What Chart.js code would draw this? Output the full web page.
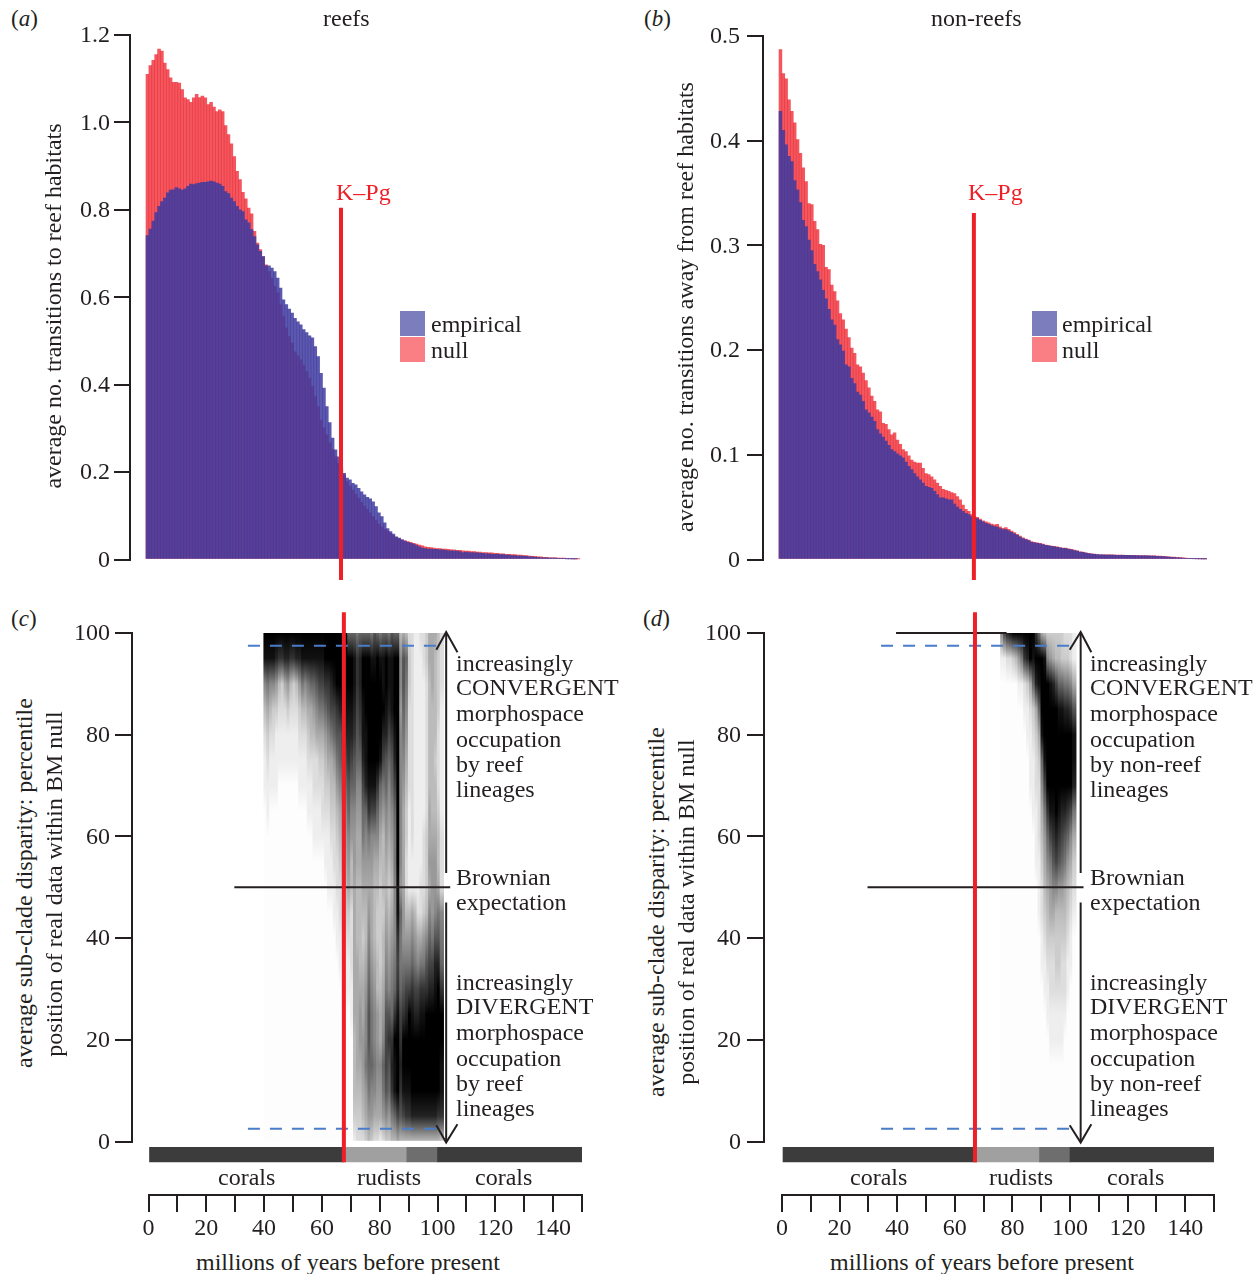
<!DOCTYPE html>
<html>
<head>
<meta charset="utf-8">
<title>Reef and non-reef transitions</title>
<script src="https://cdn.jsdelivr.net/npm/chart.js@4/dist/chart.umd.min.js"></script>
<style>
  html, body { margin: 0; padding: 0; background: #fff; }
  #page { position: relative; width: 1260px; height: 1274px; overflow: hidden; font-family: "Liberation Serif", serif; color: #231f20; }
  #page canvas { position: absolute; }
  .txt { position: absolute; font-size: 24px; line-height: 1; white-space: nowrap; transform: translateY(-50%); }
  .rot { position: absolute; font-size: 24px; line-height: 1; white-space: nowrap; transform: translate(-50%, -50%) rotate(-90deg); }
  .swatch { position: absolute; width: 25px; height: 25px; }
</style>
</head>
<body>
<div id="page">
  <canvas id="barC" width="460" height="100" style="left:140px;top:1140px"></canvas>
  <canvas id="barD" width="460" height="100" style="left:772px;top:1140px"></canvas>
  <canvas id="chartA" width="570" height="600" style="left:60px;top:0"></canvas>
  <canvas id="chartB" width="570" height="600" style="left:690px;top:0"></canvas>
  <canvas id="chartC" width="540" height="580" style="left:60px;top:600px"></canvas>
  <canvas id="chartD" width="560" height="580" style="left:690px;top:600px"></canvas>
</div>
<script>
// values, one per 1 Myr bin
const reefEmpirical = [
  .741,.756,.774,.794,.808,.819,.827,.839,.845,.846,.851,.848,.845,.848,.854,.859,.858,.86,.861,.863,
  .863,.864,.866,.864,.861,.859,.854,.842,.837,.827,.819,.808,.8,.796,.777,.77,.755,.739,.72,.705,
  .693,.672,.672,.667,.659,.644,.621,.594,.583,.573,.564,.552,.544,
  .537,.526,.519,.512,.507,.487,.464,.426,.392,.35,.313,.278,.251,.235,.212,.197,.186,.182,.174,.171,
  .163,.155,.148,.142,.139,.132,.121,.107,.098,.084,.071,.064,.058,.052,.049,.045,.042,.039,.037,.035,.032,.029,.026,
  .025,.024,.024,.023,.023,.022,.022,.021,.02,.02,.019,.019,.018,.016,
  .017,.016,.016,.015,.015,.014,.014,.013,.013,.012,.012,.012,
  .011,.011,.01,.01,.009,.009,.008,.008,.008,.007,.006,
  .006,.005,.005,.004,.004,.004,.003,.003,.003,.002,.002,.002,.001,.001,.001,.001
];
const reefNull = [
  1.11,1.13,1.142,1.155,1.168,1.163,1.136,1.121,1.102,1.092,1.092,1.09,1.075,1.056,1.052,1.046,1.056,1.064,1.057,1.06,
  1.056,1.041,1.046,1.035,1.025,1.029,1.025,.993,.972,.951,.922,.888,.869,.84,.825,.804,.791,.751,.724,.709,
  .693,.674,.659,.644,.625,.61,.583,.556,.53,.51,.495,.475,.466,
  .457,.445,.43,.415,.396,.373,.35,.319,.301,.285,.267,.251,.235,.22,.205,.193,.178,.168,.159,.149,
  .14,.131,.122,.115,.107,.098,.09,.081,.075,.069,.065,.06,.055,.051,.048,.045,
  .043,.041,.039,.037,.035,.033,.031,.029,.028,.027,
  .026,.025,.025,.024,.024,.023,.022,.022,.021,.021,.02,.019,
  .019,.018,.018,.017,.017,.016,.016,.015,.015,.014,.014,.013,
  .013,.012,.012,.011,.011,.01,.01,.009,.009,.008,.007,
  .007,.006,.006,.005,.005,.004,.004,.004,.003,.003,.003,.002,.002,.001,.001,.001
];
const nonReefEmpirical = [
  .428,.41,.396,.385,.38,.362,.353,.341,.324,.318,.305,.295,.282,.275,.267,.257,.249,.239,
  .229,.224,.21,.205,.199,.186,.184,.173,.168,.16,.157,.151,.143,.14,.136,.132,.124,.12,.117,.113,.109,.105,
  .103,.101,.099,.097,.093,.089,.086,.082,.079,.076,.073,.07,.069,.068,.065,.062,.059,.059,.058,.057,
  .057,.053,.05,.048,.046,.044,.043,.041,.04,
  .039,.0375,.036,.0345,.0335,.0325,.0315,.031,.0295,.0285,.0285,.0275,.026,.0245,.023,.0215,.02,.019,.018,.0165,
  .016,.0155,.015,.0143,.0135,.013,.0125,.012,.0116,.0112,.0107,.0104,.0098,.0092,.0086,.008,.0072,.0068,.0062,.0056,
  .0052,.005,.0046,.0044,.0044,.0043,.0043,.0042,.0042,.0041,.0041,.004,.0039,.0039,.0038,.0037,.0037,.0036,.0036,.0035,
  .0034,.0033,.0032,.0031,.0029,.0027,.0025,.0023,.0021,.0019,.0017,.0015,.0013,.0011,.001,.0008,.0006,.0005,.0004,.0003,.0002
];
const nonReefNull = [
  .487,.464,.459,.439,.428,.417,.401,.388,.374,.361,.34,.339,.323,.315,.301,.3,.279,.277,.262,.256,.247,
  .235,.229,.22,.212,.202,.197,.186,.184,.178,.171,.164,.156,.151,.143,.141,.13,.129,.124,.119,.121,.114,.11,.105,.103,.099,.095,.093,.092,
  .092,.087,.082,.081,.079,.076,.073,.07,.067,.066,.065,.064,.063,.06,.057,.052,.048,.046,.043,.041,
  .0403,.0385,.037,.036,.0351,.0339,.033,.0336,.0313,.0298,.0305,.0288,.0272,.0256,.0241,.0224,.0208,.0196,.0186,.017,
  .0164,.016,.0155,.0148,.0138,.0132,.0129,.0125,.012,.0115,.011,.0108,.0102,.0096,.009,.0083,.0074,.0071,.0064,.0058,
  .0054,.0052,.0048,.0045,.0045,.0045,.0044,.0044,.0043,.0043,.0042,.0042,.0041,.004,.004,.0039,.0038,.0038,.0037,.0037,
  .0036,.0035,.0034,.0033,.0032,.003,.0028,.0026,.0024,.0022,.002,.0018,.0016,.0014,.0012,.001,.0008,.0006,.0005,.0003,.0002
];

// heat columns: darkness 0-f at percentile 100,95,...,0 (top to bottom)
const reefHeatStart = 40;
const reefHeat = [
  "fe742110000000000000","fe853211000000000000","fe742110000000000000","fe732110000000000000","fd631110000000000000",
  "fc421100000000000000","fc321100000000000000","fd521100000000000000","fd631100000000000000","fc421100000000000000",
  "fc321100000000000000","fd421100000000000000","fd632110000000000000","fe842110000000000000","fe742110000000000000",
  "fe853211000000000000","fe954211000000000000","fe964221100000000000","fea75221100000000000","feb85321100000000000",
  "feb85322100000000000","ffc96432110000000000","ffca7532111000000000","ffdb8543211000000000","ffeb9643221100000000",
  "fffca864322110000000","fffda975432211000000","fffeba86543321100000",
  "fffedb976543211000000","9ffedca97653211000000","9ffedb976442221100000",
  "9eedca976655555544431","8ccba9765544455555432","9ddcb9765544445665432",
  "9ffeedb98654345566542","9fffeed97654456778653","9fffffec8656789aa9864",
  "8effffeb7655567889763","aeffffeb7544456778752","9fffffc97543344667652",
  "8efffe975433334557651","9eefdb864443445679862","9ffeda976545678abba73",
  "8eedb9765434567aca963","aeeeca9765456789cdc84","9fffedb98877789cfee94",
  "9fffffffffeecbcefffb5","477677777769889bcdca4","5aa98765555668acffeb4",
  "49876543322468bdffec4","23322221111468bfffec4","22222222211579cefffd4",
  "11111111111468bdfffd4","11111111111257bdfffd4","21111111112258cefffd4",
  "22111111222368cefffd4","3322222233347acffffd4","5544444556579bdffffd4",
  "5554444456668bdffffd4","544443445667adeffffd4","433322234458adfffffc4",
  "22211111222789cffeec3"
];
const nonReefHeatStart = 76;
const nonReefHeat = [
  "710000000000000000000","b10000000000000000000","d20000000000000000000","e20000000000000000000",
  "f30000000000000000000","f40000000000000000000","f61000000000000000000","f81000000000000000000",
  "fc2100000000000000000","fd3110000000000000000","ff5211100000000000000","fe9321110000000000000",
  "cfd532211100000000000","9fe953222111000000000","5fffe9754322110000000","4efffeb86543211000000",
  "37fffffc9754321100000","36effffeb865322110000","35dffffeca75322110000","34bfffffdb74332110000",
  "349efffeca64332110000","339efffdb964322110000","238dfffda854322100000","238dfffc9643211000000",
  "227cfffb7532110000000","115aeed85321000000000"
];

const segments = [[0, 67.5], [67.5, 89.4], [89.4, 100], [100, 150]];
const segmentColors = ['#3c3c3c', '#a0a0a0', '#6e6e6e', '#3c3c3c'];

const ink = '#231f20';
const red = '#ee1f27';
const dashBlue = '#4a7cc8';

function bins(values) {
  return values.map((v, i) => ({ x: i + .5, y: v }));
}

function line(points, color, width, order, dash) {
  return {
    type: 'line',
    data: points.map(p => ({ x: p[0], y: p[1] })),
    borderColor: color,
    borderWidth: width,
    borderDash: dash || [],
    pointRadius: 0,
    clip: false,
    order: order,
    borderCapStyle: 'butt'
  };
}

function yAxis(max, step, width, tickLen, pad, fmt) {
  return {
    min: 0, max: max,
    afterFit: s => { s.width = width; },
    border: { color: ink, width: 2 },
    grid: { drawOnChartArea: false, color: ink, lineWidth: 2, tickLength: tickLen },
    ticks: { stepSize: step, color: ink, padding: pad, labelOffset: 1, font: { family: 'Liberation Serif', size: 24 }, callback: fmt }
  };
}

function baseOptions(xMin, yScale, padding) {
  return {
    responsive: false,
    animation: false,
    devicePixelRatio: 1,
    layout: { padding: padding },
    plugins: { legend: { display: false }, tooltip: { enabled: false } },
    scales: {
      x: { type: 'linear', display: false, offset: false, min: xMin, max: 150 },
      y: yScale
    }
  };
}

function transitionChart(id, empirical, nullRuns, kpg, xMin, yScale, padding) {
  new Chart(document.getElementById(id), {
    type: 'bar',
    data: {
      datasets: [
        { label: 'empirical', data: bins(empirical), backgroundColor: 'rgba(64,59,160,.85)', grouped: false, barPercentage: 1, categoryPercentage: 1, order: 2 },
        { label: 'null', data: bins(nullRuns), backgroundColor: 'rgba(238,40,50,.78)', grouped: false, barPercentage: 1, categoryPercentage: 1, order: 3 },
        line(kpg, red, 4, 0)
      ]
    },
    options: baseOptions(xMin, yScale, padding)
  });
}

function heatGradient(columns) {
  return function (ctx) {
    const chart = ctx.chart;
    if (!chart.chartArea || ctx.dataIndex === undefined) return 'rgba(0,0,0,0)';
    const y = chart.scales.y;
    const g = chart.ctx.createLinearGradient(0, y.getPixelForValue(100), 0, y.getPixelForValue(0));
    const col = columns[ctx.dataIndex].padEnd(21, '0');
    for (let i = 0; i < 21; i++) {
      const d = parseInt(col[i], 16);
      const v = d === 0 ? 253 : 255 - d * 17;
      g.addColorStop(i / 20, 'rgb(' + v + ',' + v + ',' + v + ')');
    }
    return g;
  };
}

function heatChart(id, columns, start, marks, xMin, yScale, padding) {
  new Chart(document.getElementById(id), {
    type: 'bar',
    data: {
      datasets: [{
        data: columns.map((c, i) => ({ x: start + i + .5, y: [0, 100] })),
        backgroundColor: heatGradient(columns),
        barThickness: 3.6,
        grouped: false,
        order: 9
      }].concat(marks)
    },
    options: baseOptions(xMin, yScale, padding)
  });
}

function periodBar(id, padLeft, padRight) {
  new Chart(document.getElementById(id), {
    type: 'bar',
    data: {
      datasets: [{
        data: segments.map(s => ({ x: s, y: 40.5 })),
        backgroundColor: segmentColors,
        barThickness: 15,
        grouped: false
      }]
    },
    options: {
      indexAxis: 'y',
      responsive: false,
      animation: false,
      devicePixelRatio: 1,
      layout: { padding: { left: padLeft, right: padRight, top: 7, bottom: 0 } },
      plugins: { legend: { display: false }, tooltip: { enabled: false } },
      scales: {
        y: { type: 'linear', display: false, offset: false, min: 0, max: 48 },
        x: {
          type: 'linear', min: 0, max: 150,
          afterFit: s => { s.height = 45; },
          border: { color: ink, width: 2 },
          grid: { drawOnChartArea: false, color: ink, lineWidth: 2, tickLength: 17 },
          ticks: {
            stepSize: 10, autoSkip: false, maxRotation: 0, color: ink, padding: 2,
            font: { family: 'Liberation Serif', size: 24 },
            callback: v => (v % 20 === 0 && v < 150 ? v : '')
          }
        }
      }
    }
  });
}

const oneDecimal = v => (v === 0 ? '0' : v.toFixed(1));
const plain = v => v;

periodBar('barC', 8.5, 18);
periodBar('barD', 10, 18);

transitionChart('chartA', reefEmpirical, reefNull, [[67.4, -.047], [67.4, .805]], -5.53,
  yAxis(1.2, .2, 70, 16, 4, oneDecimal), { left: 0, top: 35, right: 50, bottom: 40.5 });

transitionChart('chartB', nonReefEmpirical, nonReefNull, [[68.3, -.0196], [68.3, .331]], -5.61,
  yAxis(.5, .1, 73, 16, 7, oneDecimal), { left: 0, top: 36, right: 53, bottom: 40.5 });

function heatMarks(kpgT, dashFrom, dashTo, midFrom, midTo, arrowT, armL, armR) {
  const set = [
    line([[kpgT, 104.1], [kpgT, -4.1]], red, 4, 0),
    line([[dashFrom, 97.5], [dashTo, 97.5]], dashBlue, 2, 1, [12, 10]),
    line([[dashFrom, 2.5], [dashTo, 2.5]], dashBlue, 2, 1, [12, 10]),
    line([[midFrom, 50], [midTo, 50]], ink, 2, 2),
    line([[arrowT, 52.8], [arrowT, 100]], ink, 2, 2),
    line([[arrowT, 47], [arrowT, 0]], ink, 2, 2),
    line([[armL, 96.7], [arrowT, 100.2], [armR, 96.2]], ink, 2, 2),
    line([[armL, 3.2], [arrowT, -.2], [armR, 3.4]], ink, 2, 2)
  ];
  return set;
}

const marksC = heatMarks(67.6, 34.4, 101, 29.7, 104.4, 103, 99.6, 106.9);
heatChart('chartC', reefHeat, reefHeatStart, marksC, -5.71,
  yAxis(100, 20, 72, 17, 5, plain), { left: 0, top: 33, right: 18, bottom: 38.5 });

const marksD = heatMarks(67, 34.4, 100.7, 29.7, 104.7, 103.7, 99.9, 107.4)
  .concat([line([[39.6, 100], [78, 100]], ink, 2, 2)]);
heatChart('chartD', nonReefHeat, nonReefHeatStart, marksD, -6.25,
  yAxis(100, 20, 74, 17, 6, plain), { left: 0, top: 33, right: 36, bottom: 38.5 });

// text that sits outside the axes
const page = document.getElementById('page');

function addText(text, x, y, color, size, html) {
  const d = document.createElement('div');
  d.className = 'txt';
  d.style.left = x + 'px';
  d.style.top = (y - .5) + 'px';
  if (color) d.style.color = color;
  if (size) d.style.fontSize = size + 'px';
  if (html) d.innerHTML = text; else d.textContent = text;
  page.appendChild(d);
}

function addRotated(text, x, y) {
  const d = document.createElement('div');
  d.className = 'rot';
  d.style.left = (x - 1.5) + 'px';
  d.style.top = y + 'px';
  d.textContent = text;
  page.appendChild(d);
}

function addSwatch(x, y, color) {
  const d = document.createElement('div');
  d.className = 'swatch';
  d.style.left = x + 'px';
  d.style.top = y + 'px';
  d.style.background = color;
  page.appendChild(d);
}

[['a', 11, 18], ['b', 644, 18], ['c', 11, 618], ['d', 643, 618]].forEach(p => {
  addText('(<i>' + p[0] + '</i>)', p[1], p[2], null, 23, true);
});

addText('reefs', 323, 18);
addText('non-reefs', 931, 18);
addText('K–Pg', 336, 192, red);
addText('K–Pg', 968, 192, red);

addRotated('average no. transitions to reef habitats', 54, 306);
addRotated('average no. transitions away from reef habitats', 686, 307);
addRotated('average sub-clade disparity: percentile', 25, 883);
addRotated('position of real data within BM null', 55, 884);
addRotated('average sub-clade disparity: percentile', 657, 912);
addRotated('position of real data within BM null', 687, 912);

[[400, 431], [1032, 1062]].forEach(p => {
  addSwatch(p[0], 311, '#7b7dbd');
  addSwatch(p[0], 337, '#f97f84');
  addText('empirical', p[1], 324);
  addText('null', p[1], 350);
});

const upperNotes = [['increasingly', 663], ['CONVERGENT', 687], ['morphospace', 713], ['occupation', 739], ['by reef', 764], ['lineages', 789]];
const middleNotes = [['Brownian', 877], ['expectation', 902]];
const lowerNotes = [['increasingly', 982], ['DIVERGENT', 1006], ['morphospace', 1032], ['occupation', 1058], ['by reef', 1083], ['lineages', 1108]];

upperNotes.concat(middleNotes, lowerNotes).forEach(n => {
  addText(n[0], 456, n[1]);
  addText(n[0] === 'by reef' ? 'by non-reef' : n[0], 1090, n[1]);
});

addText('corals', 218, 1177);
addText('rudists', 357, 1177);
addText('corals', 475, 1177);
addText('corals', 850, 1177);
addText('rudists', 989, 1177);
addText('corals', 1107, 1177);

addText('millions of years before present', 196, 1262);
addText('millions of years before present', 830, 1262);
</script>
</body>
</html>
